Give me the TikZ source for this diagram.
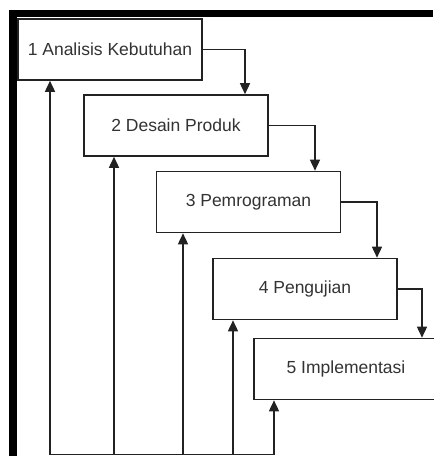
\documentclass[tikz,border=0pt]{standalone}
\usepackage{fontspec}
\setmainfont{Liberation Sans}
\usetikzlibrary{arrows.meta}
\definecolor{ln}{HTML}{222222}
\definecolor{tx}{HTML}{333333}
\begin{document}
\begin{tikzpicture}[x=1pt,y=-1pt,
  stagebox/.style={draw=ln,line width=1.6pt,rectangle,minimum width=184pt,minimum height=61pt,inner sep=0pt,
    font=\fontsize{17.5}{20}\selectfont,text=tx,fill=white},
  arr/.style={draw=ln,line width=1.5pt,-{Triangle[width=10pt,length=11pt]}},
  plain/.style={draw=ln,line width=1.5pt}]
\useasboundingbox (0,0) rectangle (434,456);
\fill[black] (9,10) rectangle (433,17);
\fill[black] (9,10) rectangle (17,456);
\node[stagebox] (b1) at (110,49.5) {1 Analisis Kebutuhan};
\node[stagebox] (b2) at (176,125.5) {2 Desain Produk};
\node[stagebox] (b3) at (248.5,202) {3 Pemrograman};
\node[stagebox] (b4) at (305,289) {4 Pengujian};
\node[stagebox] (b5) at (346,369) {5 Implementasi};
% forward flow
\draw[arr] (b1.east) -| ([xshift=69pt]b2.north);
\draw[arr] (b2.east) -| ([xshift=66.5pt]b3.north);
\draw[arr] (b3.east) -| ([xshift=72pt]b4.north);
\draw[arr] (b4.east) -| ([xshift=76pt]b5.north);
% feedback
\coordinate (base) at (0,454.5);
\coordinate (f1) at ([xshift=-60pt]b1.south |- base);
\coordinate (f2) at ([xshift=-62pt]b2.south |- base);
\coordinate (f3) at ([xshift=-65.5pt]b3.south |- base);
\coordinate (f4) at ([xshift=-72pt]b4.south |- base);
\coordinate (f5) at ([xshift=-72pt]b5.south |- base);
\draw[plain] (f1) -- (f5);
\draw[arr] (f1) -- ([xshift=-60pt]b1.south);
\draw[arr] (f2) -- ([xshift=-62pt]b2.south);
\draw[arr] (f3) -- ([xshift=-65.5pt]b3.south);
\draw[arr] (f4) -- ([xshift=-72pt]b4.south);
\draw[arr] (f5) -- ([xshift=-72pt]b5.south);
\end{tikzpicture}
\end{document}
